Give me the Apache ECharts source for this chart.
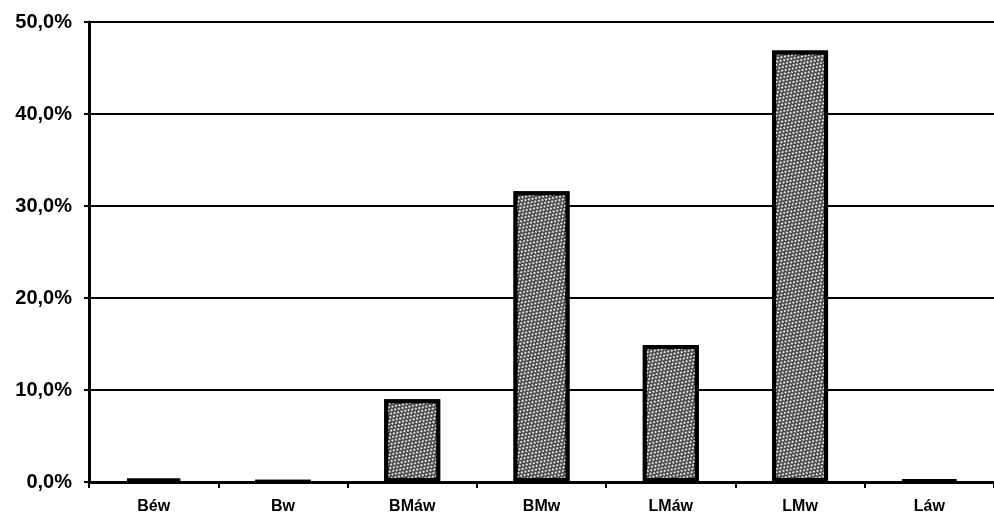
<!DOCTYPE html>
<html>
<head>
<meta charset="utf-8">
<script src="https://cdn.jsdelivr.net/npm/echarts@6/dist/echarts.min.js"></script>
<style>
html,body{margin:0;padding:0;background:#fff;}
#chart{width:994px;height:521px;}
</style>
</head>
<body>
<div id="chart"></div>
<script>
const categories = ['Béw', 'Bw', 'BMáw', 'BMw', 'LMáw', 'LMw', 'Láw'];
const shares = [0.3, 0.05, 9.0, 31.6, 14.9, 46.9, 0.2];
const yTicks = [0, 10, 20, 30, 40, 50];

const chart = echarts.init(document.getElementById('chart'), null, {renderer: 'canvas'});
const font = '"Liberation Sans", Arial, sans-serif';
chart.setOption({
  animation: false,
  backgroundColor: '#ffffff',
  grid: {left: 89, right: 0, top: 22, bottom: 39, containLabel: false},
  xAxis: {
    type: 'category',
    data: categories,
    boundaryGap: true,
    axisLine: {show: true, lineStyle: {color: '#000', width: 3}},
    axisTick: {show: true, interval: 0, length: 6, lineStyle: {color: '#000', width: 2}},
    axisLabel: {interval: 0, margin: 17, color: '#000', fontFamily: font, fontWeight: 'bold', fontSize: 16},
    splitLine: {show: false}
  },
  yAxis: {
    type: 'value',
    min: yTicks[0],
    max: yTicks[yTicks.length - 1],
    interval: 10,
    axisLine: {show: true, lineStyle: {color: '#000', width: 3}},
    axisTick: {show: true, inside: false, length: 5, lineStyle: {color: '#000', width: 2}},
    axisLabel: {
      margin: 17, color: '#000', fontFamily: font, fontWeight: 'bold', fontSize: 20,
      formatter: v => v.toFixed(1).replace('.', ',') + '%'
    },
    splitLine: {show: true, lineStyle: {color: '#000', width: 2}}
  },
  series: [{
    type: 'bar',
    data: shares,
    barWidth: 56,
    itemStyle: {
      color: '#4a4a4a',
      borderColor: '#000',
      borderWidth: 4,
      decal: {
        symbol: 'rect',
        symbolSize: 1,
        color: 'rgba(255,255,255,0.8)',
        dashArrayX: [[2, 2], [0, 2, 2, 0]],
        dashArrayY: [2, 1],
        rotation: Math.PI / 4
      }
    }
  }]
});
</script>
</body>
</html>
